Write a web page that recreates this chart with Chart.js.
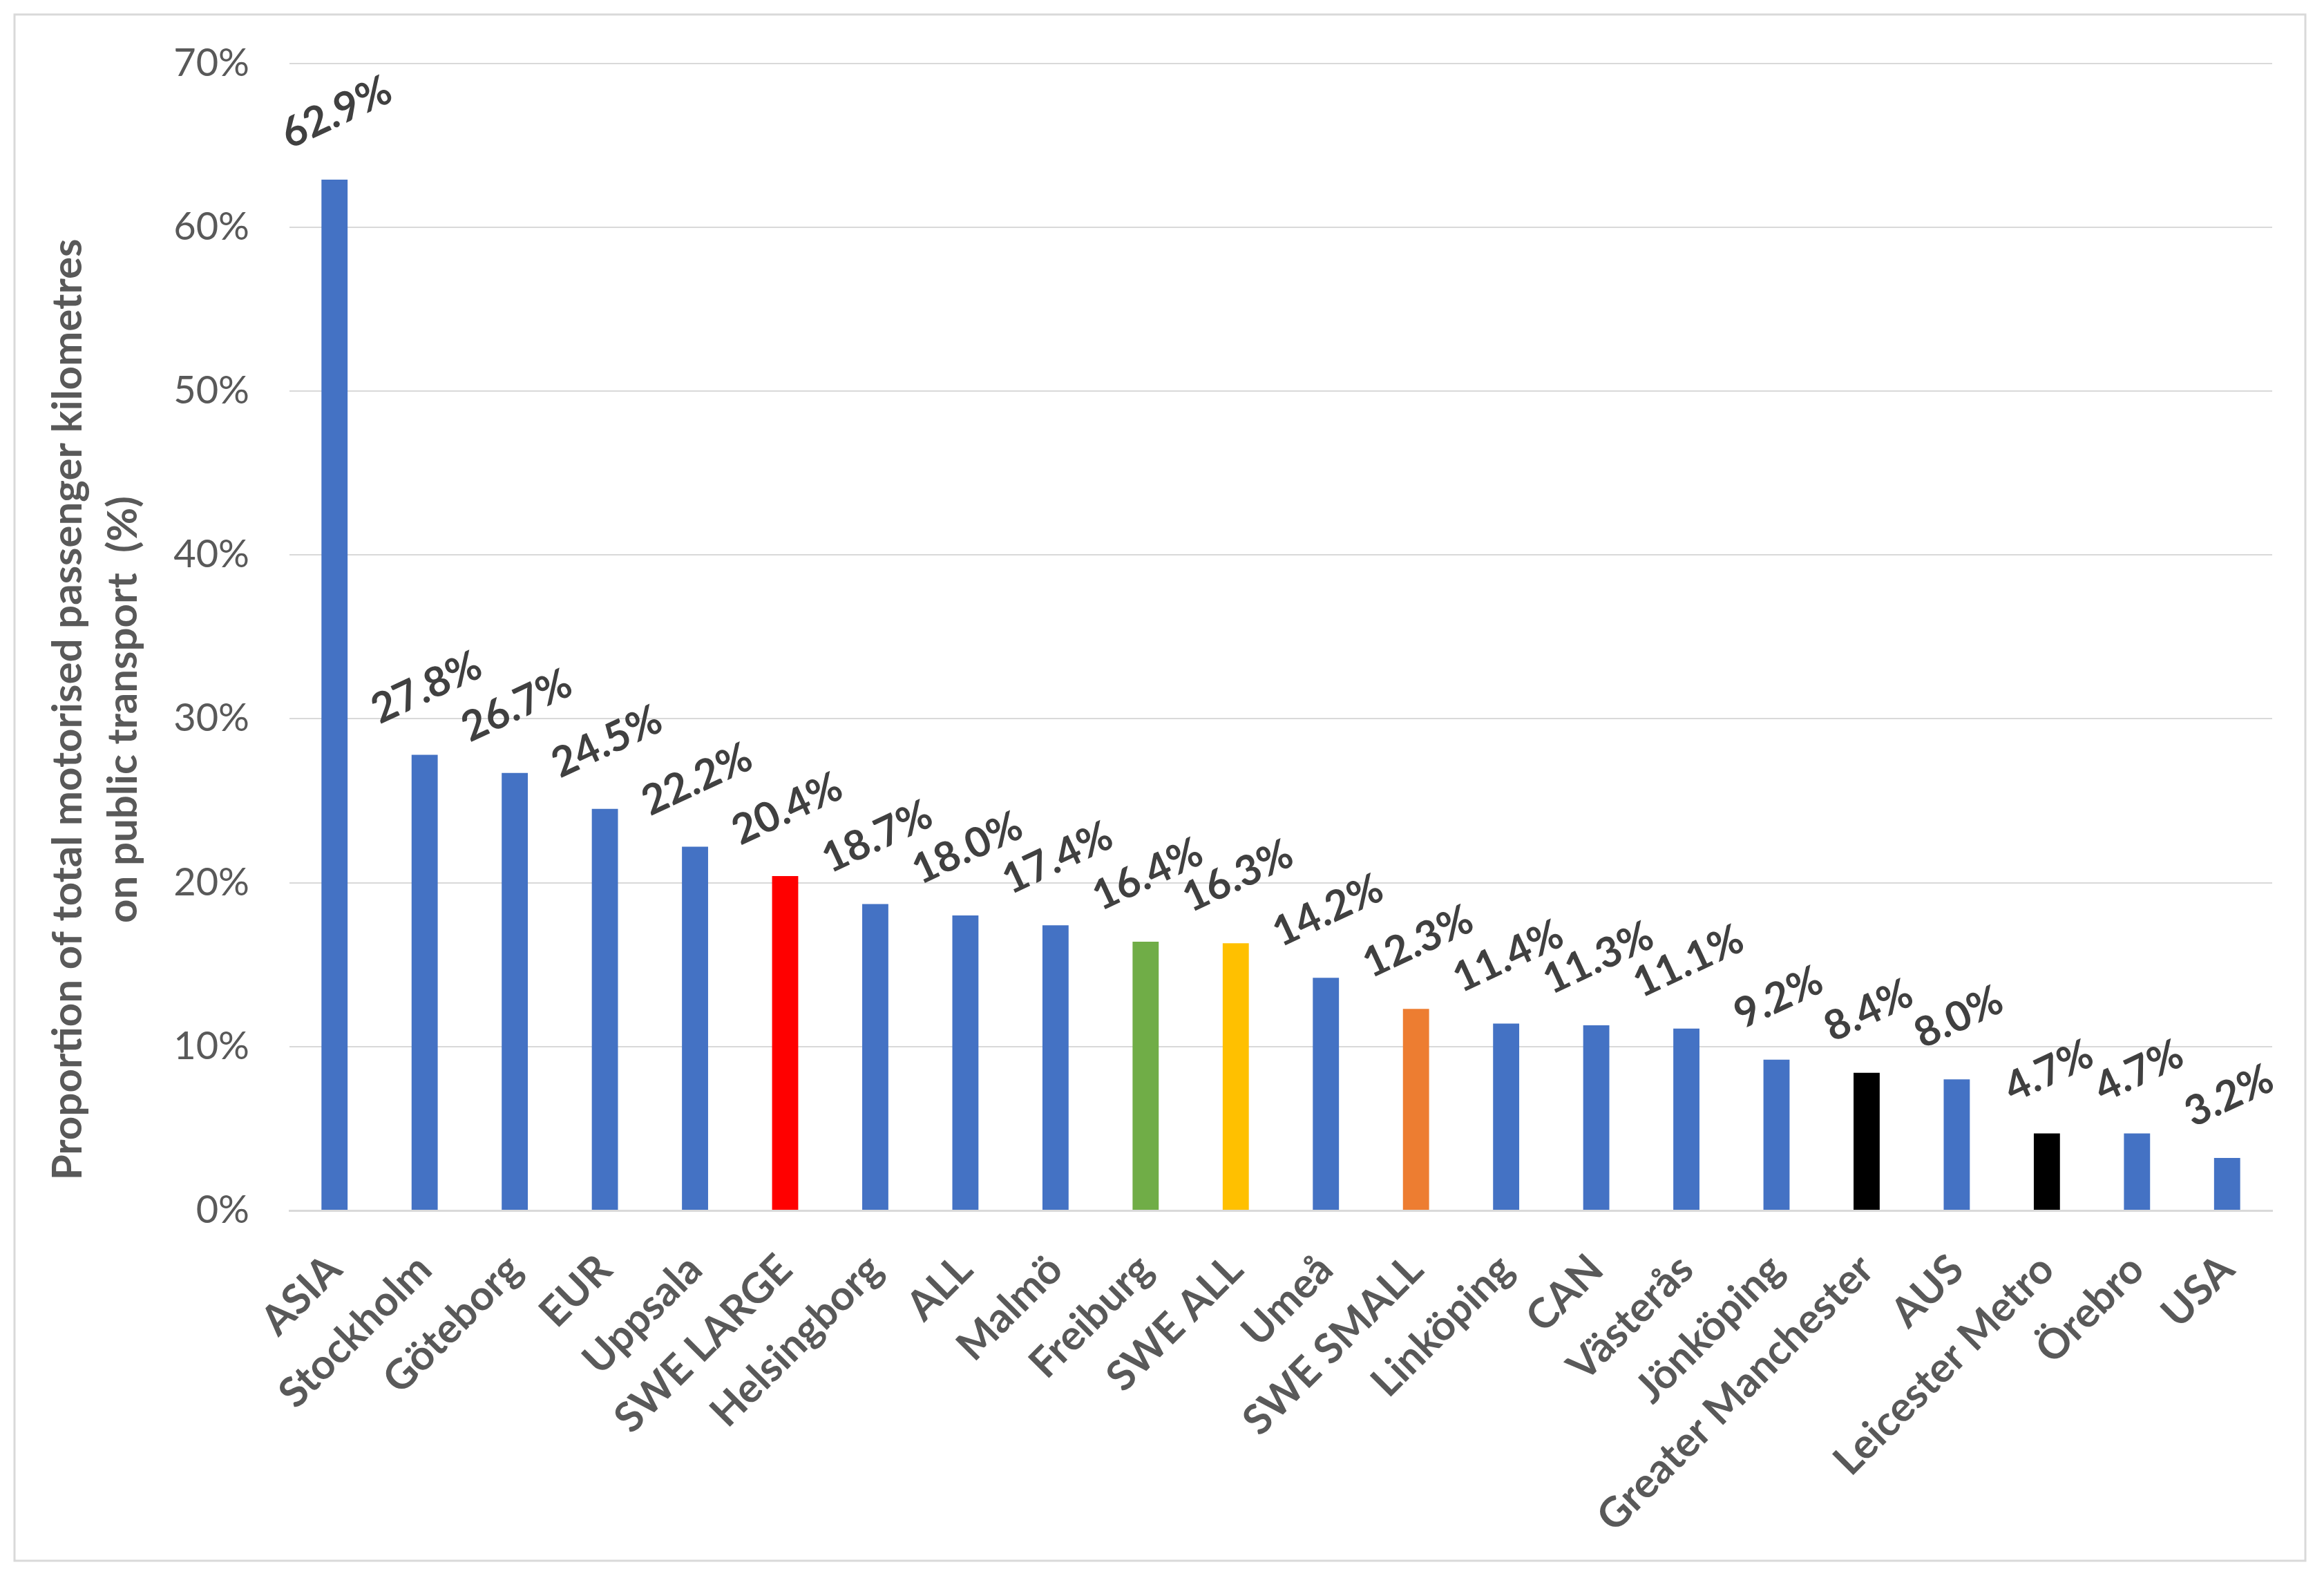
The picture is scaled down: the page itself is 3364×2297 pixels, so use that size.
<!DOCTYPE html>
<html lang="en">
<head>
    <meta charset="UTF-8">
    <title>Public transport share</title>
    <style>
        html, body { margin: 0; padding: 0; background: #ffffff; }
        #wrap { position: relative; width: 3364px; height: 2297px; }
    </style>
</head>
<body>
    <div id="wrap"><canvas id="ptChart"></canvas></div>

    <script src="https://cdn.jsdelivr.net/npm/chart.js"></script>
    <script>
        // categories and values
        const categories = ["ASIA", "Stockholm", "Göteborg", "EUR", "Uppsala", "SWE LARGE", "Helsingborg", "ALL",
            "Malmö", "Freiburg", "SWE ALL", "Umeå", "SWE SMALL", "Linköping", "CAN", "Västerås", "Jönköping",
            "Greater Manchester", "AUS", "Leicester Metro", "Örebro", "USA"];
        const shares = [62.9, 27.8, 26.7, 24.5, 22.2, 20.4, 18.7, 18.0, 17.4, 16.4, 16.3, 14.2, 12.3, 11.4, 11.3,
            11.1, 9.2, 8.4, 8.0, 4.7, 4.7, 3.2];
        const barColours = ["#4472C4", "#4472C4", "#4472C4", "#4472C4", "#4472C4", "#FF0000", "#4472C4", "#4472C4",
            "#4472C4", "#70AD47", "#FFC000", "#4472C4", "#ED7D31", "#4472C4", "#4472C4", "#4472C4", "#4472C4",
            "#000000", "#4472C4", "#000000", "#4472C4", "#4472C4"];
        const yTicks = [0, 10, 20, 30, 40, 50, 60, 70];
        const axisTitle = ["Proportion of total motorised passenger kilometres", "on public transport  (%)"];

        const FONT = "Lato, 'Open Sans', sans-serif";

        // white background + light grey frame round the whole chart
        const framePlugin = {
            id: 'frame',
            beforeDraw(chart) {
                const c = chart.ctx;
                c.save();
                c.fillStyle = '#ffffff';
                c.fillRect(0, 0, chart.width, chart.height);
                c.strokeStyle = '#d9d9d9';
                c.lineWidth = 3;
                c.strokeRect(21, 21, 3316, 2238);
                c.restore();
            }
        };

        // rotated value labels above each bar
        const valueLabels = {
            id: 'valueLabels',
            afterDatasetsDraw(chart) {
                const c = chart.ctx;
                const meta = chart.getDatasetMeta(0);
                const ang = -25 * Math.PI / 180;
                c.save();
                c.font = "bold 60px " + FONT;
                c.fillStyle = '#404040';
                c.textAlign = 'center';
                c.textBaseline = 'middle';
                meta.data.forEach((bar, i) => {
                    const txt = shares[i].toFixed(1) + '%';
                    const w = c.measureText(txt).width;
                    const halfBox = (w * Math.sin(-ang) + 52 * Math.cos(ang)) / 2;
                    c.save();
                    c.translate(bar.x + 3, bar.y - halfBox - 38);
                    c.rotate(ang);
                    c.fillText(txt, 0, 0);
                    c.restore();
                });
                c.restore();
            }
        };

        // y axis title, placed as in the reference (a little below the plot centre)
        const yTitle = {
            id: 'yTitle',
            afterDraw(chart) {
                const c = chart.ctx;
                c.save();
                c.font = "bold 60px " + FONT;
                c.fillStyle = '#595959';
                c.textAlign = 'center';
                c.textBaseline = 'alphabetic';
                c.translate(0, 1027);
                c.rotate(-Math.PI / 2);
                c.fillText(axisTitle[0], 0, 118);
                c.fillText(axisTitle[1], 0, 198);
                c.restore();
            }
        };

        const ctx = document.getElementById('ptChart').getContext('2d');
        const chart = new Chart(ctx, {
            type: 'bar',
            data: {
                labels: categories,
                datasets: [{
                    label: 'Share',
                    data: shares,
                    backgroundColor: barColours,
                    borderWidth: 0,
                    barPercentage: 0.29,
                    categoryPercentage: 1.0
                }]
            },
            options: {
                responsive: true,
                maintainAspectRatio: false,
                devicePixelRatio: 1,
                animation: false,
                layout: { padding: { top: 86, right: 75, bottom: 0, left: 0 } },
                plugins: {
                    legend: { display: false },
                    tooltip: { enabled: false }
                },
                scales: {
                    x: {
                        grid: { display: false, drawTicks: false },
                        border: { display: true, color: '#d9d9d9', width: 3 },
                        ticks: {
                            autoSkip: false,
                            maxRotation: 45,
                            minRotation: 45,
                            padding: 50,
                            color: '#595959',
                            font: { family: FONT, size: 60, weight: 'bold' }
                        },
                        afterFit(scale) { scale.height = 545; }
                    },
                    y: {
                        min: 0,
                        max: 70,
                        afterBuildTicks(scale) { scale.ticks = yTicks.map(v => ({ value: v })); },
                        grid: { color: '#d9d9d9', lineWidth: 2, drawTicks: false },
                        border: { display: false },
                        ticks: {
                            padding: 58,
                            color: '#595959',
                            font: { family: FONT, size: 56 },
                            callback: v => v + '%'
                        },
                        afterFit(scale) { scale.width = 419; }
                    }
                }
            },
            plugins: [framePlugin, valueLabels, yTitle]
        });
    </script>
</body>
</html>
